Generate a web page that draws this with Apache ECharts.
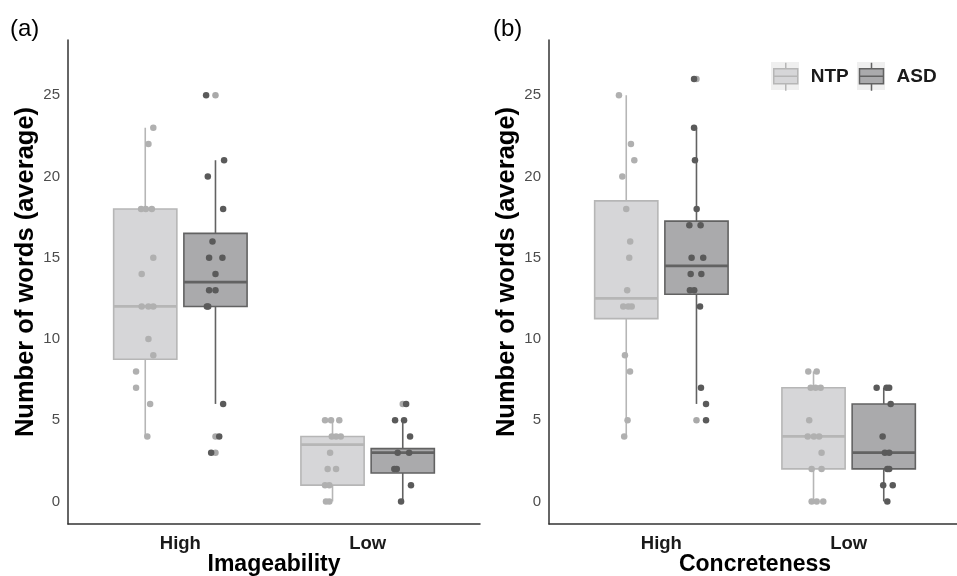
<!DOCTYPE html>
<html><head><meta charset="utf-8">
<script src="https://cdn.jsdelivr.net/npm/echarts@6/dist/echarts.min.js"></script>
<style>html,body{margin:0;padding:0;background:#fff}#c{width:957px;height:576px}</style>
</head><body><div id="c"></div>
<script>
// ---------- data ----------
const categories = ['High', 'Low'];
const groups = ['NTP', 'ASD'];
const yTicks = [0, 5, 10, 15, 20, 25];
const panelTags = ['(a)', '(b)'];
const xTitles = ['Imageability', 'Concreteness'];
const yTitle = 'Number of words (average)';

// box stats [min, Q1, median, Q3, max] for [High, Low]
const boxA_NTP = [[4, 8.75, 12, 18, 23], [0, 1, 3.5, 4, 5]];
const boxA_ASD = [[6, 12, 13.5, 16.5, 21], [0, 1.75, 3, 3.25, 5]];
const boxB_NTP = [[4, 11.25, 12.5, 18.5, 25], [0, 2, 4, 7, 8]];
const boxB_ASD = [[6, 12.75, 14.5, 17.25, 23], [0, 2, 3, 6, 7]];

// outliers for [High, Low]
const outA_NTP = [[], []];
const outA_ASD = [[25, 4, 3], [6]];
const outB_NTP = [[], []];
const outB_ASD = [[26, 5], []];

// individual (jittered) points: values and horizontal jitter (category units), [High, Low]
const ptsA_NTP = [[23,22,18,18,18,15,14,12,12,12,10,9,8,7,6,4], [5,5,5,4,4,4,3,2,2,1,1,0,0]];
const jitA_NTP = [[0.043,0.017,-0.022,0.003,0.035,0.043,-0.019,-0.019,0.017,0.043,0.017,0.043,-0.049,-0.049,0.026,0.011],
                  [-0.040,-0.008,0.036,-0.004,0.019,0.044,-0.013,-0.026,0.019,-0.040,-0.017,-0.035,-0.017]];
const ptsA_ASD = [[25,21,20,18,16,15,15,14,13,13,12,12,6,4,3], [6,5,5,4,3,3,2,2,1,0]];
const jitA_ASD = [[-0.050,0.046,-0.041,0.041,-0.016,-0.034,0.037,0,-0.034,0,-0.046,-0.039,0.041,0.020,-0.023],
                  [0.018,-0.041,0.007,0.039,-0.027,0.034,-0.045,-0.032,0.044,-0.009]];
const ptsB_NTP = [[25,22,21,20,18,16,15,13,12,12,12,9,8,5,4], [8,8,7,7,7,5,4,4,4,3,2,2,0,0,0]];
const jitB_NTP = [[-0.039,0.025,0.043,-0.021,0,0.021,0.016,0.005,-0.016,0.011,0.029,-0.007,0.020,0.007,-0.011],
                  [-0.028,0.017,-0.015,0.011,0.038,-0.023,-0.031,0.002,0.030,0.043,-0.010,0.043,-0.010,0.017,0.052]];
const ptsB_ASD = [[26,23,21,18,17,17,15,15,14,14,13,13,12,7,6,5], [7,7,7,6,4,3,3,2,2,1,1,0]];
const jitB_ASD = [[-0.013,-0.013,-0.008,0.001,-0.038,0.022,-0.026,0.036,-0.031,0.026,-0.035,-0.012,0.019,0.024,0.051,0.051],
                  [-0.038,0.015,0.029,0.037,-0.006,0.006,0.029,0.019,0.029,-0.003,0.048,0.019]];

// ---------- styles ----------
const FONT = 'Liberation Sans, Arial, Helvetica, sans-serif';
const DODGE = 0.1875, BOX_WIDTH = 0.3375;
const style = {
  NTP: { fill: '#d6d6d8', stroke: '#b6b6b6', point: '#b0b0b0', outlier: '#b0b0b0' },
  ASD: { fill: '#aaaaac', stroke: '#626262', point: '#5a5a5a', outlier: '#a9a9a9' }
};

const panels = [
  { box: { NTP: boxA_NTP, ASD: boxA_ASD }, out: { NTP: outA_NTP, ASD: outA_ASD },
    pts: { NTP: ptsA_NTP, ASD: ptsA_ASD }, jit: { NTP: jitA_NTP, ASD: jitA_ASD } },
  { box: { NTP: boxB_NTP, ASD: boxB_ASD }, out: { NTP: outB_NTP, ASD: outB_ASD },
    pts: { NTP: ptsB_NTP, ASD: ptsB_ASD }, jit: { NTP: jitB_NTP, ASD: jitB_ASD } }
];

function boxRender(fill, stroke) {
  return function (params, api) {
    const x = api.value(0);
    const lo = api.coord([x, api.value(1)]);
    const q1 = api.coord([x, api.value(2)]);
    const md = api.coord([x, api.value(3)]);
    const q3 = api.coord([x, api.value(4)]);
    const hi = api.coord([x, api.value(5)]);
    const w = api.size([BOX_WIDTH, 0])[0];
    const cx = md[0];
    return { type: 'group', children: [
      { type: 'line', shape: { x1: cx, y1: hi[1], x2: cx, y2: q3[1] }, style: { stroke: stroke, lineWidth: 1.6 } },
      { type: 'line', shape: { x1: cx, y1: q1[1], x2: cx, y2: lo[1] }, style: { stroke: stroke, lineWidth: 1.6 } },
      { type: 'rect', shape: { x: cx - w / 2, y: q3[1], width: w, height: q1[1] - q3[1] }, style: { fill: fill, stroke: stroke, lineWidth: 1.6 } },
      { type: 'line', shape: { x1: cx - w / 2, y1: md[1], x2: cx + w / 2, y2: md[1] }, style: { stroke: stroke, lineWidth: 2.8 } }
    ]};
  };
}

const grids = [], xAxes = [], yAxes = [], series = [], titles = [];
panels.forEach(function (p, i) {
  grids.push({ left: i === 0 ? 68 : 549, top: 40, width: 412, height: 484, outerBoundsMode: 'none', containLabel: false });
  xAxes.push({
    type: 'value', gridIndex: i, min: 0.4, max: 2.6,
    axisLine: { show: true, onZero: false, lineStyle: { color: '#333', width: 1.5 } },
    axisTick: { show: false }, splitLine: { show: false },
    axisLabel: { customValues: [1, 2], formatter: function (v) { return categories[Math.round(v) - 1]; },
      fontSize: 18.5, fontWeight: 'bold', color: '#1a1a1a', margin: 10, fontFamily: FONT },
    name: xTitles[i], nameLocation: 'middle', nameGap: 29, nameMoveOverlap: false,
    nameTextStyle: { fontSize: 23, fontWeight: 'bold', color: '#000', fontFamily: FONT }
  });
  yAxes.push({
    type: 'value', gridIndex: i, min: -1.39, max: 28.4,
    axisLine: { show: true, onZero: false, lineStyle: { color: '#333', width: 1.5 } },
    axisTick: { show: false }, splitLine: { show: false },
    axisLabel: { customValues: yTicks, fontSize: 15, color: '#4d4d4d', margin: 8, fontFamily: FONT },
    name: yTitle, nameLocation: 'middle', nameGap: 29, nameRotate: 90, nameMoveOverlap: false,
    nameTextStyle: { fontSize: 25.5, fontWeight: 'bold', color: '#000', fontFamily: FONT, padding: [0, 0, 0, 20] }
  });
  titles.push({ text: panelTags[i], left: i === 0 ? 10 : 493, top: 17, padding: 0,
    textStyle: { fontSize: 24, fontWeight: 'normal', color: '#000', fontFamily: FONT } });

  groups.forEach(function (g, gi) {
    const off = gi === 0 ? -DODGE : DODGE;
    const s = style[g];
    series.push({
      name: g, type: 'custom', xAxisIndex: i, yAxisIndex: i, silent: true,
      itemStyle: { color: s.fill, borderColor: s.stroke },
      encode: { x: 0, y: [1, 2, 3, 4, 5] },
      data: p.box[g].map(function (b, c) { return [c + 1 + off].concat(b); }),
      renderItem: boxRender(s.fill, s.stroke), z: 2
    });
  });
  groups.forEach(function (g, gi) {
    const off = gi === 0 ? -DODGE : DODGE;
    const s = style[g];
    const od = [];
    p.out[g].forEach(function (arr, c) { arr.forEach(function (v) { od.push([c + 1 + off, v]); }); });
    series.push({ name: g + ' outliers', type: 'scatter', xAxisIndex: i, yAxisIndex: i, silent: true,
      symbolSize: 6.5, itemStyle: { color: s.outlier, opacity: 1 }, data: od, z: 3 });
  });
  groups.forEach(function (g, gi) {
    const off = gi === 0 ? -DODGE : DODGE;
    const s = style[g];
    const pd = [];
    p.pts[g].forEach(function (arr, c) {
      arr.forEach(function (v, k) { pd.push([c + 1 + off + p.jit[g][c][k], v]); });
    });
    series.push({ name: g + ' points', type: 'scatter', xAxisIndex: i, yAxisIndex: i, silent: true,
      symbolSize: 6.5, itemStyle: { color: s.point, opacity: 1 }, data: pd, z: 4 });
  });
});

const keyIcon = 'path://M12 0 L12 6 M0 6 L24 6 L24 21 L0 21 Z M0 13.5 L24 13.5 M12 21 L12 28';

const option = {
  animation: false,
  backgroundColor: '#fff',
  title: titles,
  grid: grids, xAxis: xAxes, yAxis: yAxes, series: series,
  graphic: [
    { type: 'rect', shape: { x: 771, y: 62, width: 28, height: 28 }, style: { fill: '#efefef' }, silent: true },
    { type: 'rect', shape: { x: 857, y: 62, width: 28, height: 28 }, style: { fill: '#efefef' }, silent: true }
  ],
  legend: {
    left: 773, top: 62, padding: 0, orient: 'horizontal', itemWidth: 24, itemHeight: 28, itemGap: 10,
    selectedMode: false,
    textStyle: { fontSize: 19, fontWeight: 'bold', color: '#1a1a1a', fontFamily: FONT, padding: [0, 0, 0, 8] },
    data: groups.map(function (g) {
      return { name: g, icon: keyIcon,
        itemStyle: { color: style[g].fill, borderColor: style[g].stroke, borderWidth: 1.5 } };
    })
  }
};

const chart = echarts.init(document.getElementById('c'), null, { renderer: 'canvas' });
chart.setOption(option);
</script>
</body></html>
